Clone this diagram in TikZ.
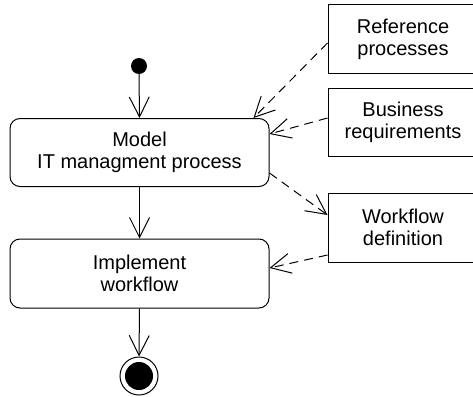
\documentclass[tikz,border=0pt]{standalone}
\usepackage{fontspec}
\setmainfont{Liberation Sans}
\usetikzlibrary{arrows.meta}
\begin{document}
\begin{tikzpicture}[x=1pt, y=-1pt,
  every node/.style={font=\fontsize{20}{22}\selectfont, inner sep=0pt, align=center},
  activity/.style={draw, line width=1pt, rounded corners=10pt, minimum width=259pt, minimum height=68pt},
  artifact/.style={draw, line width=1pt, minimum width=150pt, minimum height=68pt},
  flow/.style={line width=1pt, -{Straight Barb[length=20pt, width=20pt, line width=1pt]}},
  dep/.style={flow, dash pattern=on 9pt off 6pt}]
  \useasboundingbox (0,0) rectangle (473,396);
  \clip (0,0) rectangle (473,396);

  % start / end states
  \node[circle, fill=black, minimum size=16pt] (start) at (139,66) {};
  \node[circle, draw, line width=1pt, minimum size=38pt] (stop) at (139,376) {};
  \node[circle, fill=black, minimum size=28pt] at (stop.center) {};

  % activities
  \node[activity] (model) at (139.5,152.5) {Model\\IT managment process};
  \node[activity, minimum height=69pt] (impl) at (139.5,273.5) {Implement\\workflow};

  % artifacts
  \node[artifact] (ref) at (403,39) {Reference\\processes};
  \node[artifact] (bus) at (403,122) {Business\\requirements};
  \node[artifact, minimum height=69pt] (wf) at (403,227.5) {Workflow\\definition};

  % control flow
  \draw[flow] (start.south) -- (model.north);
  \draw[flow] (model.south) -- (impl.north);
  \draw[flow] (impl.south) -- (stop.north);

  % object flows
  \draw[dep] ([yshift=-4pt]ref.west) -- ([xshift=-16pt]model.north east);
  \draw[dep] ([yshift=4pt]bus.west) -- ([yshift=18.5pt]model.east);
  \draw[dep] ([yshift=-20.5pt]model.east) -- ([yshift=12.5pt]wf.west);
  \draw[dep] ([yshift=-27.5pt]wf.west) -- ([yshift=5.5pt]impl.east);
\end{tikzpicture}
\end{document}
